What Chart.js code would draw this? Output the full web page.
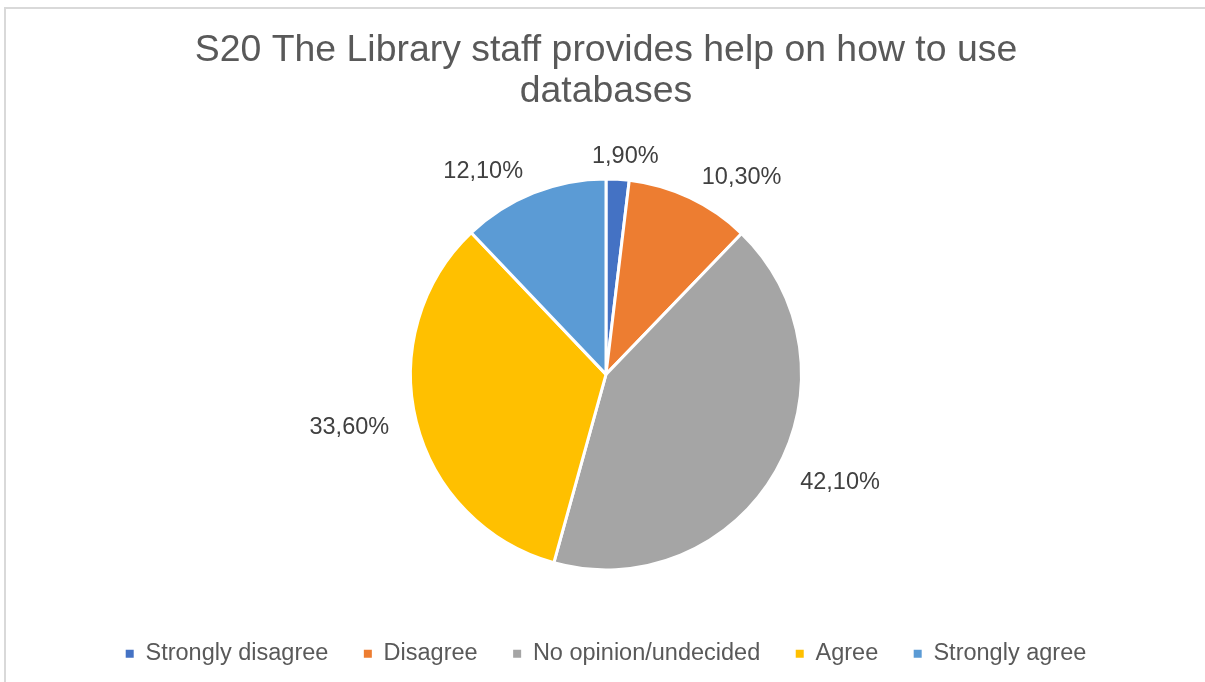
<!DOCTYPE html>
<html>
<head>
<meta charset="utf-8">
<script src="https://cdn.jsdelivr.net/npm/chart.js@4/dist/chart.umd.min.js"></script>
<style>
    html, body {
        margin: 0;
        padding: 0;
        background: #ffffff;
    }
    .chart-box {
        position: relative;
        width: 1205px;
        height: 682px;
        overflow: hidden;
    }
    .chart-frame {
        position: absolute;
        left: 4px;
        top: 7px;
        width: 1220px;
        height: 700px;
        border: 2px solid #d9d9d9;
    }
</style>
</head>
<body>
<div class="chart-box">
    <div class="chart-frame"></div>
    <canvas id="pieChart"></canvas>
</div>
<script>
var answers = ['Strongly disagree', 'Disagree', 'No opinion/undecided', 'Agree', 'Strongly agree'];
var shares = [1.9, 10.3, 42.1, 33.6, 12.1];
var sliceColors = ['#4472C4', '#ED7D31', '#A5A5A5', '#FFC000', '#5B9BD5'];
var titleLines = ['S20 The Library staff provides help on how to use', 'databases'];

var FONT = '"Liberation Sans", Arial, sans-serif';

function formatShare(v) {
    return v.toFixed(2).replace('.', ',') + '%';
}

// percentage labels outside each slice
var outsideLabels = {
    id: 'outsideLabels',
    afterDatasetsDraw: function (chart) {
        var ctx = chart.ctx;
        var meta = chart.getDatasetMeta(0);
        var values = chart.data.datasets[0].data;
        ctx.save();
        ctx.font = '23.5px ' + FONT;
        ctx.fillStyle = '#404040';
        ctx.textAlign = 'center';
        ctx.textBaseline = 'middle';
        meta.data.forEach(function (arc, i) {
            var p = arc.getProps(['x', 'y', 'startAngle', 'endAngle', 'outerRadius'], true);
            var mid = (p.startAngle + p.endAngle) / 2;
            var cos = Math.cos(mid);
            var sin = Math.sin(mid);
            var text = formatShare(values[i]);
            var halfW = ctx.measureText(text).width / 2;
            var halfH = 11.5;
            var kx = Math.max(-1, Math.min(1, cos * 3));
            var tx = p.x + (p.outerRadius + 28) * cos + halfW * kx;
            var ty = p.y + (p.outerRadius + 11) * sin + halfH * sin;
            ctx.fillText(text, tx, ty);
        });
        ctx.restore();
    }
};

// plain square markers, without the slice border
function legendItems(chart) {
    return chart.data.labels.map(function (label, i) {
        return {
            text: label,
            fillStyle: sliceColors[i],
            strokeStyle: sliceColors[i],
            fontColor: '#595959',
            lineWidth: 0,
            hidden: false,
            index: i
        };
    });
}

var pieData = {
    labels: answers,
    datasets: [
        {
            data: shares,
            backgroundColor: sliceColors,
            borderColor: '#ffffff',
            borderWidth: 3
        }
    ]
};

var pieOptions = {
    responsive: true,
    maintainAspectRatio: false,
    animation: false,
    radius: 195.5,
    layout: {
        padding: {left: 7, right: 0, top: 0, bottom: 6.5}
    },
    plugins: {
        title: {
            display: true,
            text: titleLines,
            color: '#595959',
            font: {family: FONT, size: 37.4, weight: 'normal', lineHeight: 1.1},
            padding: {top: 30, bottom: 30}
        },
        legend: {
            position: 'bottom',
            labels: {
                color: '#595959',
                font: {family: FONT, size: 23.5},
                boxWidth: 8,
                boxHeight: 8,
                padding: 35.5,
                generateLabels: legendItems
            }
        },
        tooltip: {enabled: false}
    }
};

var pieChart = new Chart(document.getElementById('pieChart').getContext('2d'), {
    type: 'pie',
    data: pieData,
    options: pieOptions,
    plugins: [outsideLabels]
});
</script>
</body>
</html>
